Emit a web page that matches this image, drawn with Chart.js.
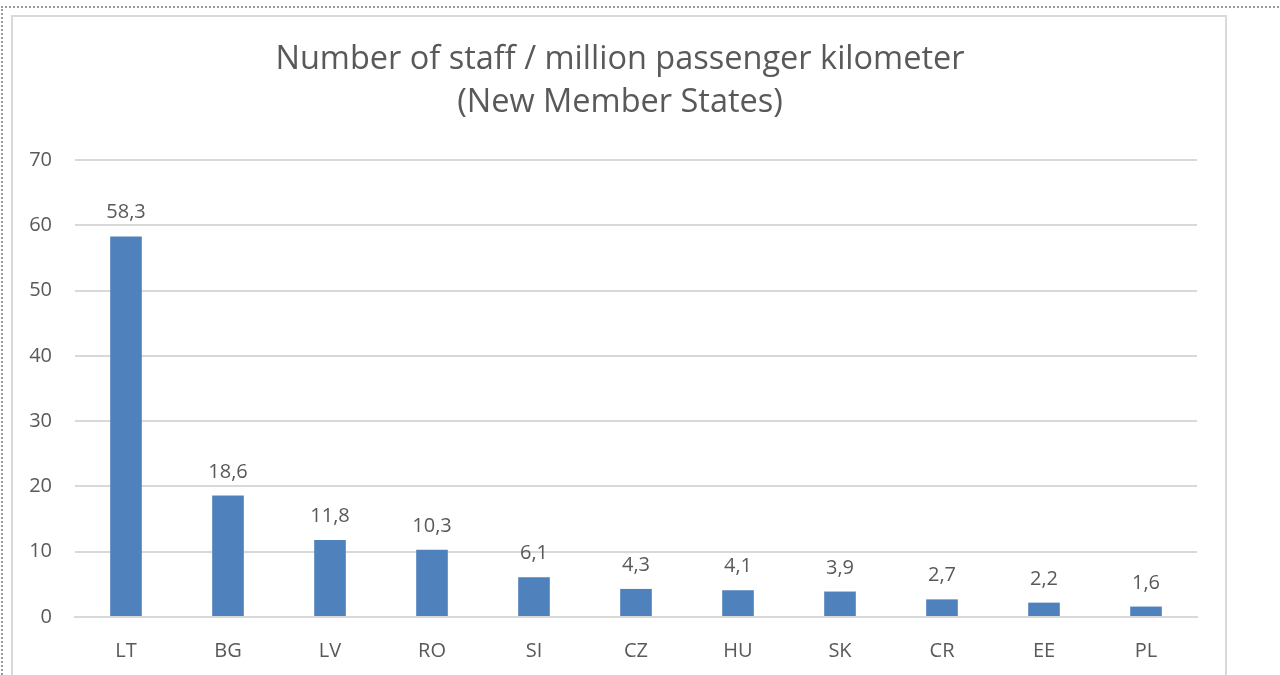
<!DOCTYPE html>
<html>
<head>
<meta charset="utf-8">
<script src="https://cdn.jsdelivr.net/npm/chart.js@4"></script>
<style>
  html, body { margin: 0; padding: 0; background: #fff; }
  #page { position: relative; width: 1280px; height: 675px; overflow: hidden; }
  #outer { position: absolute; left: 1px; top: 6px; width: 1290px; height: 700px; border: 2px dotted #9a9a9a; box-sizing: border-box; }
  #inner { position: absolute; left: 11px; top: 15px; width: 1216px; height: 700px; border: 2px solid #d9d9d9; box-sizing: border-box; }
  canvas { position: absolute; left: 0; top: 0; }
</style>
</head>
<body>
<div id="page">
  <div id="outer"></div>
  <div id="inner"></div>
  <canvas id="chart" width="1280" height="675"></canvas>
</div>
<script>
var countries = ['LT', 'BG', 'LV', 'RO', 'SI', 'CZ', 'HU', 'SK', 'CR', 'EE', 'PL'];
var staffPerMpkm = [58.3, 18.6, 11.8, 10.3, 6.1, 4.3, 4.1, 3.9, 2.7, 2.2, 1.6];
var yTicks = [0, 10, 20, 30, 40, 50, 60, 70];
var titleLines = ['Number of staff / million passenger kilometer', '(New Member States)'];

var textColor = '#595959';
var font = 'Open Sans';

// title centred on the chart frame, not on the plot
var frameTitle = {
  id: 'frameTitle',
  afterDraw: function(chart) {
    var ctx = chart.ctx;
    ctx.save();
    ctx.font = '32.5px "' + font + '"';
    ctx.fillStyle = textColor;
    ctx.textAlign = 'center';
    ctx.textBaseline = 'middle';
    titleLines.forEach(function(line, i) {
      ctx.fillText(line, 620, 60 + i * 43);
    });
    ctx.restore();
  }
};

// value labels above each bar, with decimal comma
var barLabels = {
  id: 'barLabels',
  afterDatasetsDraw: function(chart) {
    var ctx = chart.ctx;
    var meta = chart.getDatasetMeta(0);
    ctx.save();
    ctx.font = '20px "' + font + '"';
    ctx.fillStyle = textColor;
    ctx.textAlign = 'center';
    ctx.textBaseline = 'alphabetic';
    meta.data.forEach(function(bar, i) {
      ctx.fillText(String(staffPerMpkm[i]).replace('.', ','), bar.x, bar.y - 18);
    });
    ctx.restore();
  }
};

new Chart(document.getElementById('chart'), {
  type: 'bar',
  data: {
    labels: countries,
    datasets: [{
      data: staffPerMpkm,
      backgroundColor: '#4f81bd',
      borderWidth: 0,
      categoryPercentage: 1,
      barPercentage: 0.31
    }]
  },
  options: {
    responsive: false,
    animation: false,
    layout: { padding: { left: 0, right: 83, top: 160, bottom: 0 } },
    plugins: {
      legend: { display: false },
      tooltip: { enabled: false },
      title: { display: false }
    },
    scales: {
      x: {
        grid: { display: false },
        border: { display: true, color: '#d9d9d9', width: 2 },
        ticks: { color: textColor, font: { family: font, size: 20 }, padding: 14 },
        afterFit: function(scale) { scale.height = 58; }
      },
      y: {
        min: 0,
        max: 70,
        afterBuildTicks: function(scale) {
          scale.ticks = yTicks.map(function(v) { return { value: v }; });
        },
        grid: { color: '#d9d9d9', lineWidth: 2, drawTicks: false },
        border: { display: false },
        ticks: { color: textColor, font: { family: font, size: 20 }, padding: 23 },
        afterFit: function(scale) { scale.width = 75; }
      }
    }
  },
  plugins: [barLabels, frameTitle]
});
</script>
</body>
</html>
